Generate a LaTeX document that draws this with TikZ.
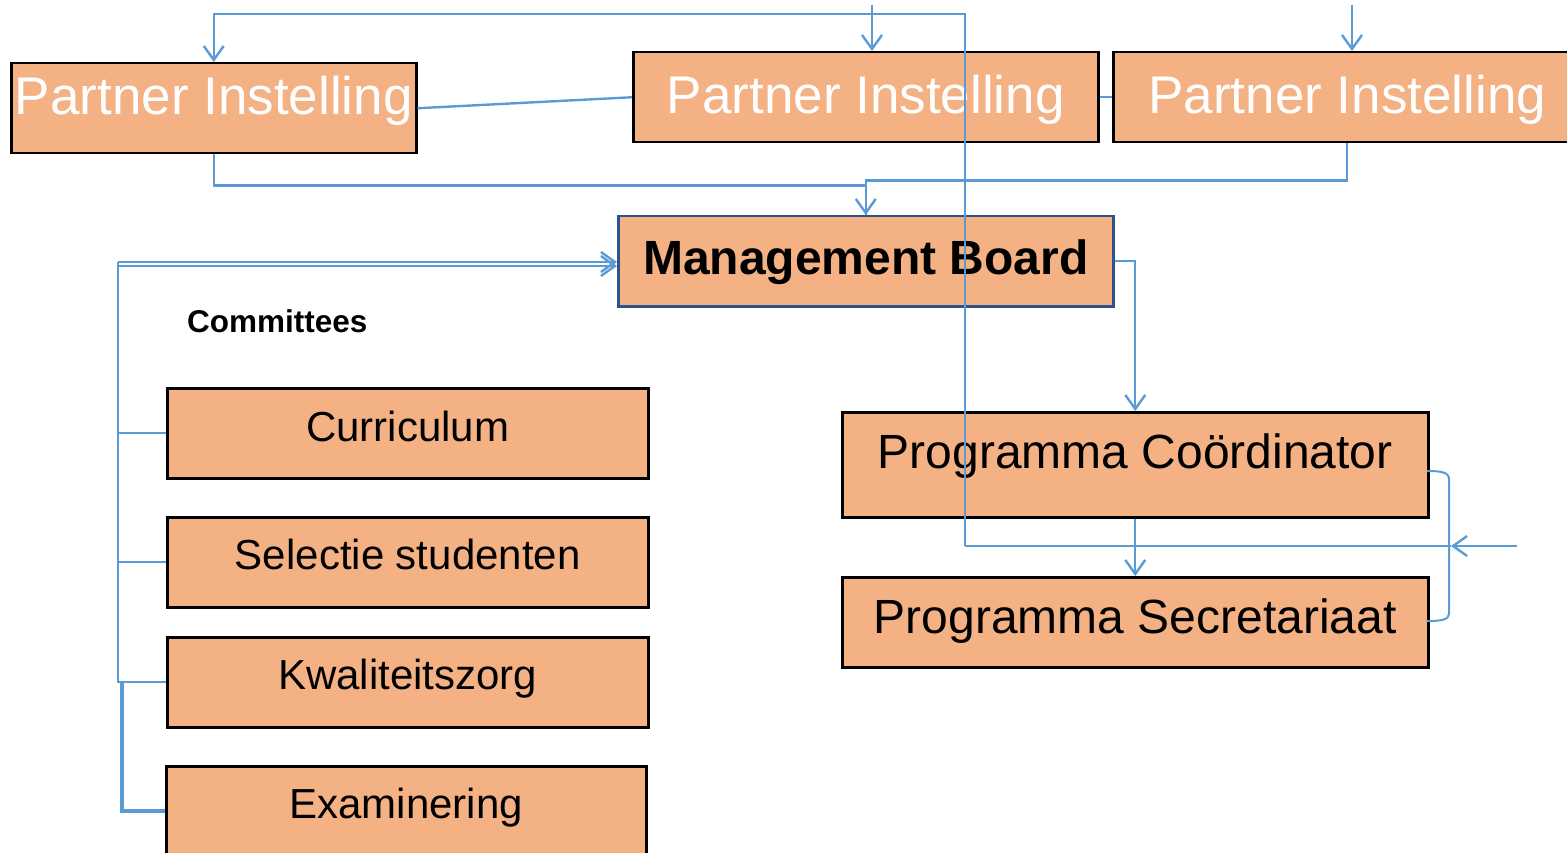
\documentclass[tikz,border=0pt]{standalone}
\usepackage{fontspec}
\setmainfont{Liberation Sans}
\usetikzlibrary{arrows.meta}
\definecolor{boxfill}{HTML}{F4B183}
\definecolor{lineblue}{HTML}{5B9BD5}
\definecolor{mbborder}{HTML}{2F528F}
\tikzset{
  box/.style={draw=black, line width=2.5pt, fill=boxfill, inner sep=0pt, anchor=north west,
              text height=#1, text depth=0pt},
  box/.default=14pt,
  pifont/.style={font=\fontsize{53}{60}\selectfont, text=white},
  comfont/.style={font=\fontsize{42}{48}\selectfont},
  progfont/.style={font=\fontsize{48}{54}\selectfont},
  conn/.style={draw=lineblue, line width=2.4pt},
  >={Straight Barb[length=14pt,width=20pt]}
}
\begin{document}
\begin{tikzpicture}[x=1pt,y=-1pt]
\useasboundingbox (0,0) rectangle (1567,853);
% boxes
\node[box=12pt, pifont, minimum width=405pt, minimum height=90pt] (PI1) at (10,62) {Partner Instelling};
\node[box=32pt, pifont, minimum width=465pt, minimum height=90pt] (PI2) at (632,51) {Partner Instelling};
\node[box=32pt, pifont, minimum width=468pt, minimum height=90pt] (PI3) at (1112,51) {Partner Instelling};
\node[box=26pt, draw=mbborder, font=\fontsize{48}{54}\selectfont\bfseries, minimum width=495pt, minimum height=90pt] (MB) at (617,215) {Management Board\hspace{10pt}};
\node[anchor=base west, inner sep=0pt, font=\fontsize{31.5}{36}\selectfont\bfseries] (com) at (187,332) {Committees};
\node[box=16pt, comfont, minimum width=481pt, minimum height=90pt] (Cur) at (166,387) {Curriculum};
\node[box=14pt, comfont, minimum width=481pt, minimum height=90pt] (Sel) at (166,516) {Selectie studenten};
\node[box=14pt, comfont, minimum width=481pt, minimum height=90pt] (Kw) at (166,636) {Kwaliteitszorg};
\node[box=14pt, comfont, minimum width=480pt, minimum height=90pt] (Ex) at (165,765) {Examinering};
\node[box=7pt, progfont, minimum width=586pt, minimum height=105pt] (PC) at (841,411) {Programma Coördinator};
\node[box=22pt, progfont, minimum width=586pt, minimum height=90pt] (PS) at (841,576) {Programma Secretariaat};
% coordinates
\coordinate (loopTR) at (965,14);
\coordinate (loopBR) at (965,546);
\coordinate (brMid) at (1451,546);
\coordinate (inR) at (1517,546);
\coordinate (in2) at (872,5);
\coordinate (in3) at (1352,5);
\coordinate (lTop) at (118,262);
\coordinate (brA) at (1427,471);
\coordinate (brB) at (1427,621);
% connectors
\draw[conn] (PI1.east) -- (PI2.west);
\draw[conn] (PI2.east) -- (PI3.west);
\draw[conn,->] (in2) -- (in2 |- PI2.north);
\draw[conn,->] (in3) -- (in3 |- PI3.north);
\draw[conn,->] (loopBR) -- (loopTR) -| (PI1.north);
\draw[conn] (loopBR) -- (brMid);
\draw[conn,->] (inR) -- (brMid);
\draw[conn] (PI3.south) -- ++(0,37) -| (MB.north);
\draw[conn,->] (PI1.south) -- ++(0,31) -| (MB.north);
\draw[conn,->] (MB.east) -| (PC.north);
\draw[conn,->] (PC.south) -- (PS.north);
\draw[conn, line width=2pt] (brA) .. controls (1440,471) and (1449,472) .. (1449,479)
   -- (1449,614) .. controls (1449,620) and (1440,621) .. (brB);
% committees bus
\draw[conn,->] (lTop) -- (lTop -| MB.west);
\draw[conn,->] ([yshift=-4pt]lTop) -- ([yshift=-4pt]lTop -| MB.west);
\draw[conn] (lTop) -- (lTop |- Kw.west) -- (Kw.west);
\draw[conn] (lTop |- Cur.west) -- (Cur.west);
\draw[conn] (lTop |- Sel.west) -- (Sel.west);
\draw[conn, line width=4pt] ([xshift=4pt]lTop |- Kw.west) |- (Ex.west);
\end{tikzpicture}
\end{document}
